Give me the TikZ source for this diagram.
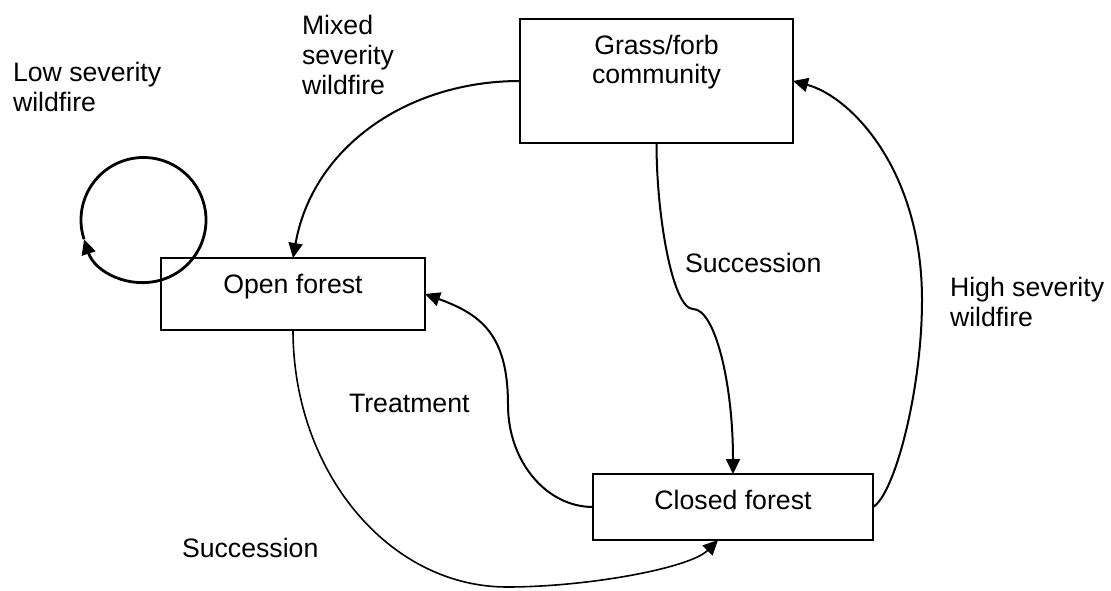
\documentclass[tikz,border=0pt]{standalone}
\usepackage{fontspec}
\setmainfont{Liberation Sans}
\usetikzlibrary{arrows.meta,calc}
\begin{document}
\begin{tikzpicture}[x=1pt,y=1pt]
\tikzset{
  box/.style={draw=black, line width=2pt, inner sep=0pt, outer sep=0pt},
  txt/.style={font=\fontsize{26.67}{30}\selectfont, inner sep=0pt, outer sep=0pt, align=left, anchor=north west},
  ctxt/.style={font=\fontsize{26.67}{29.5}\selectfont, inner sep=0pt, outer sep=0pt, align=center, anchor=north},
  conn/.style={draw=black, line width=2pt, -{Triangle[length=15pt,width=14pt]}},
}
\useasboundingbox (0,0) rectangle (1111,590);

% boxes
\node[box, minimum width=273pt, minimum height=124pt] (g) at (656.5,509) {};
\node[box, minimum width=264pt, minimum height=72pt] (o) at (293,296) {};
\node[box, minimum width=280pt, minimum height=66pt] (c) at (733,83) {};
\node[ctxt] (gt) at ([yshift=-16pt]g.north) {Grass/forb\\community};
\node[ctxt] (ot) at ([yshift=-16pt]o.north) {Open forest};
\node[ctxt] (ct) at ([yshift=-16pt]c.north) {Closed forest};

% labels
\node[txt] (l1) at (13,528.3) {Low severity\\wildfire};
\node[txt] (l2) at (302,575) {Mixed\\severity\\wildfire};
\node[txt] (l3) at (685,337.3) {Succession};
\node[txt] (l4) at (950,313.3) {High severity\\wildfire};
\node[txt] (l5) at (349,196) {Treatment};
\node[txt] (l6) at (182,52) {Succession};

% helper coordinates
\coordinate (k1) at (693,281);
\coordinate (k2) at (922,290);
\coordinate (k3) at (508,185);
\coordinate (k4) at (507,3);
\coordinate (lc) at (143.5,370);

% connectors
\draw[conn] (g.west) to[out=180,in=80] (o.north);
\draw[conn] (g.south) to[out=-90,in=180,out distance=75pt,in distance=20pt] (k1)
  to[out=0,in=90,out distance=22pt,in distance=91pt] (c.north);
\draw[conn] (c.east) to[out=30,in=-90,out distance=25pt,in distance=90pt] (k2)
  to[out=90,in=-15,out distance=130pt,in distance=60pt] (g.east);
\draw[conn] (c.west) to[out=180,in=-90,out distance=47pt,in distance=56pt] (k3)
  to[out=90,in=-20,out distance=70pt,in distance=60pt] (o.east);
\draw[conn, line width=1.6pt] (o.south) to[out=-90,in=180,out distance=142pt,in distance=118pt] (k4)
  to[out=0,in=-135,out distance=80pt,in distance=40pt] ([xshift=-15pt]c.south);
\draw[conn, line width=2.8pt] ($(lc)+(558:62.5pt)$) arc[start angle=558, end angle=198, radius=62.5pt];
\end{tikzpicture}
\end{document}
